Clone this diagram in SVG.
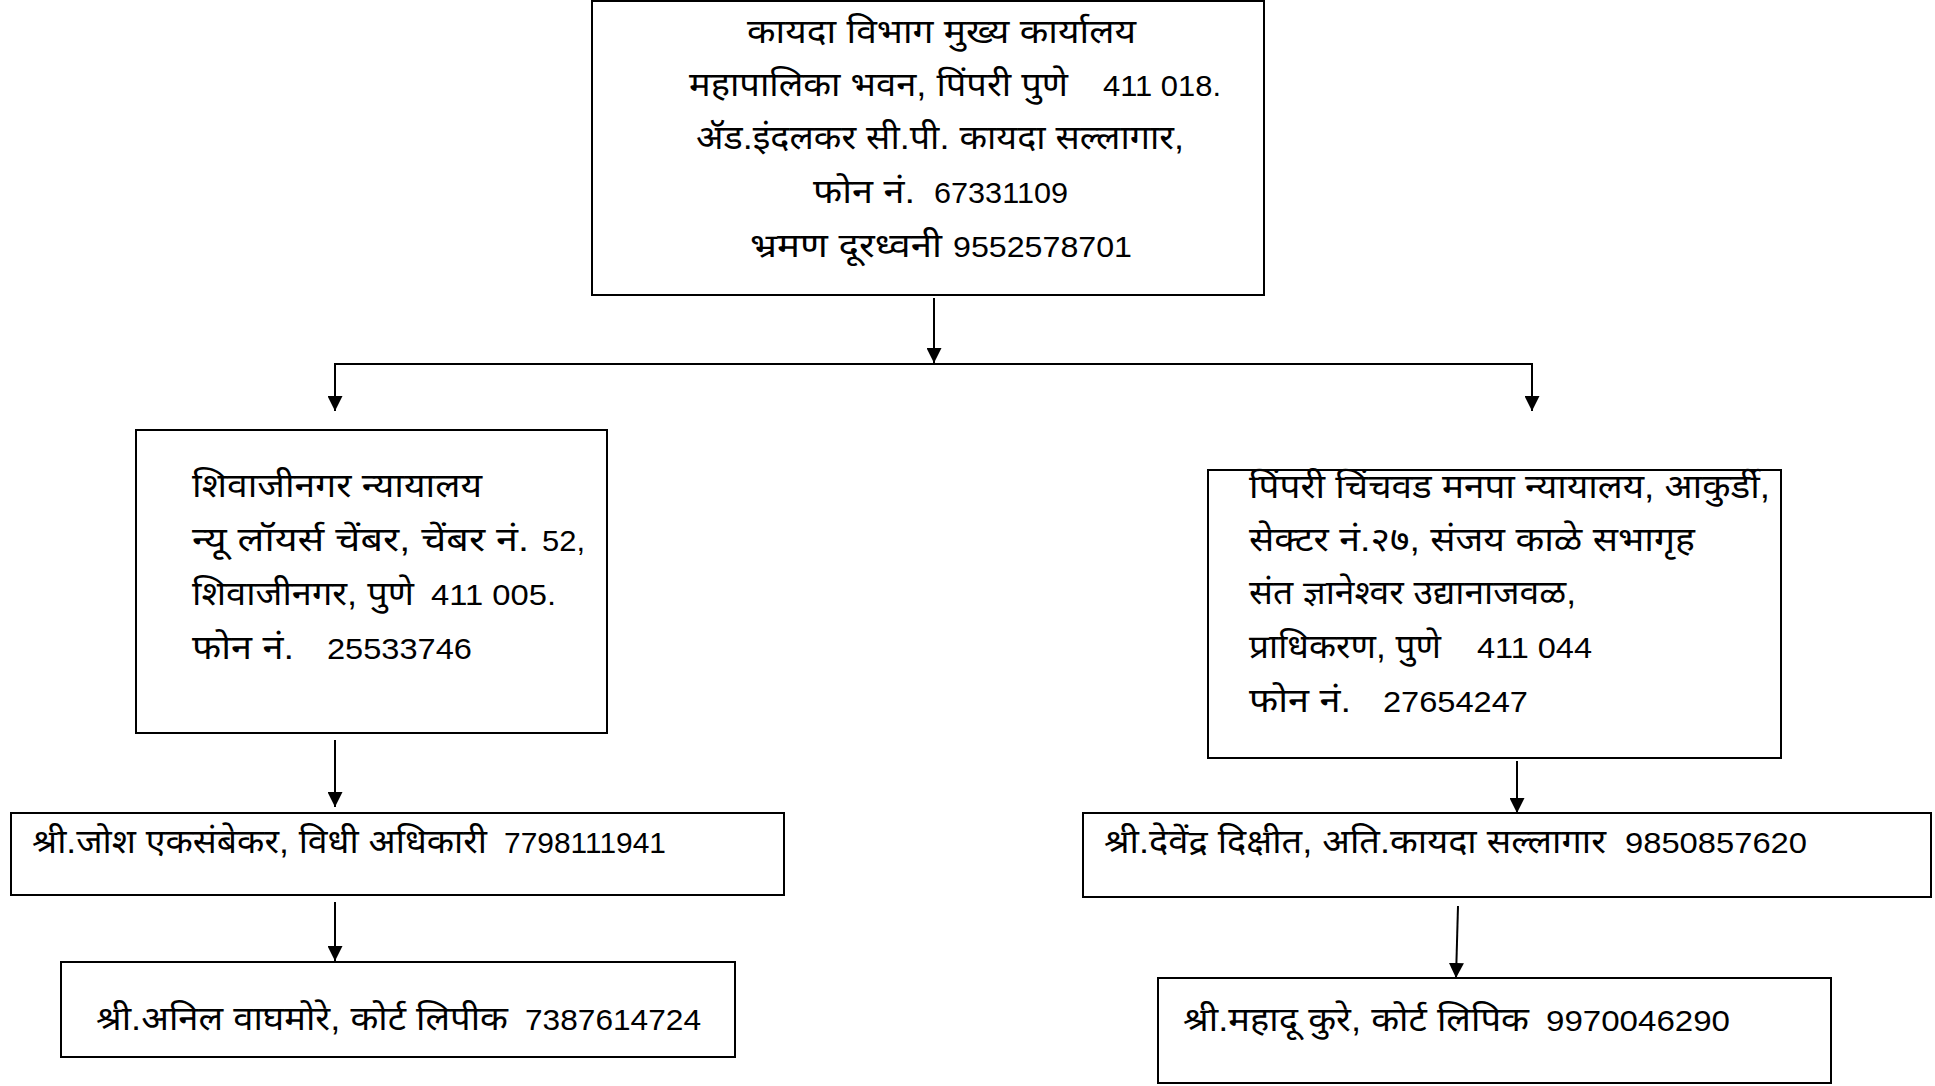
<svg xmlns="http://www.w3.org/2000/svg" width="1935" height="1086" viewBox="0 0 1935 1086">
<style>
.box{fill:#fff;stroke:#000;stroke-width:2}
.d{font-family:"Liberation Sans","Noto Sans",sans-serif;font-size:33px;fill:#000}
.n{font-family:"Liberation Sans","Noto Sans",sans-serif;font-size:30px;fill:#000}
.ln{stroke:#000;stroke-width:2;fill:none}
</style>
<defs>
<marker id="ah" markerUnits="userSpaceOnUse" markerWidth="15" markerHeight="15" refX="15" refY="7.5" orient="auto">
<path d="M0,0 L15,7.5 L0,15 z" fill="#000"/>
</marker>
</defs>
<rect width="1935" height="1086" fill="#fff"/>
<g id="connectors">
<line class="ln" x1="934" y1="298" x2="934" y2="363" marker-end="url(#ah)"/>
<line class="ln" x1="334" y1="364" x2="1533" y2="364"/>
<line class="ln" x1="335" y1="364" x2="335" y2="411" marker-end="url(#ah)"/>
<line class="ln" x1="1532" y1="364" x2="1532" y2="411" marker-end="url(#ah)"/>
<line class="ln" x1="335" y1="740" x2="335" y2="807" marker-end="url(#ah)"/>
<line class="ln" x1="335" y1="902" x2="335" y2="961" marker-end="url(#ah)"/>
<line class="ln" x1="1517" y1="761" x2="1517" y2="813" marker-end="url(#ah)"/>
<line class="ln" x1="1458" y1="906" x2="1456" y2="978" marker-end="url(#ah)"/>
</g>
<g id="head-office">
<rect class="box" x="592" y="1" width="672" height="294"/>
<text class="d" x="747" y="43" textLength="389" lengthAdjust="spacingAndGlyphs">कायदा विभाग मुख्य कार्यालय</text>
<text class="d" x="689" y="96" textLength="379" lengthAdjust="spacingAndGlyphs">महापालिका भवन, पिंपरी पुणे</text>
<text class="n" x="1103" y="96" textLength="118" lengthAdjust="spacingAndGlyphs">411 018.</text>
<text class="d" x="696" y="149" textLength="488" lengthAdjust="spacingAndGlyphs">ॲड.इंदलकर सी.पी. कायदा सल्लागार,</text>
<text class="d" x="813" y="203" textLength="102" lengthAdjust="spacingAndGlyphs">फोन नं.</text>
<text class="n" x="934" y="203" textLength="134" lengthAdjust="spacingAndGlyphs">67331109</text>
<text class="d" x="750" y="257" textLength="192" lengthAdjust="spacingAndGlyphs">भ्रमण दूरध्वनी</text>
<text class="n" x="953" y="257" textLength="179" lengthAdjust="spacingAndGlyphs">9552578701</text>
</g>
<g id="shivajinagar-court">
<rect class="box" x="136" y="430" width="471" height="303"/>
<text class="d" x="192" y="497" textLength="290" lengthAdjust="spacingAndGlyphs">शिवाजीनगर न्यायालय</text>
<text class="d" x="192" y="551" textLength="337" lengthAdjust="spacingAndGlyphs">न्यू लॉयर्स चेंबर, चेंबर नं.</text>
<text class="n" x="542" y="551" textLength="43" lengthAdjust="spacingAndGlyphs">52,</text>
<text class="d" x="192" y="605" textLength="222" lengthAdjust="spacingAndGlyphs">शिवाजीनगर, पुणे</text>
<text class="n" x="431" y="605" textLength="125" lengthAdjust="spacingAndGlyphs">411 005.</text>
<text class="d" x="192" y="659" textLength="102" lengthAdjust="spacingAndGlyphs">फोन नं.</text>
<text class="n" x="327" y="659" textLength="145" lengthAdjust="spacingAndGlyphs">25533746</text>
</g>
<g id="pcmc-court">
<rect class="box" x="1208" y="470" width="573" height="288"/>
<text class="d" x="1249" y="498" textLength="521" lengthAdjust="spacingAndGlyphs">पिंपरी चिंचवड मनपा न्यायालय, आकुर्डी,</text>
<text class="d" x="1249" y="551" textLength="446" lengthAdjust="spacingAndGlyphs">सेक्टर नं.२७, संजय काळे सभागृह</text>
<text class="d" x="1249" y="604" textLength="327" lengthAdjust="spacingAndGlyphs">संत ज्ञानेश्वर उद्यानाजवळ,</text>
<text class="d" x="1249" y="658" textLength="192" lengthAdjust="spacingAndGlyphs">प्राधिकरण, पुणे</text>
<text class="n" x="1477" y="658" textLength="115" lengthAdjust="spacingAndGlyphs">411 044</text>
<text class="d" x="1249" y="712" textLength="102" lengthAdjust="spacingAndGlyphs">फोन नं.</text>
<text class="n" x="1383" y="712" textLength="145" lengthAdjust="spacingAndGlyphs">27654247</text>
</g>
<g id="law-officer">
<rect class="box" x="11" y="813" width="773" height="82"/>
<text class="d" x="32" y="853" textLength="455" lengthAdjust="spacingAndGlyphs">श्री.जोश एकसंबेकर, विधी अधिकारी</text>
<text class="n" x="504" y="853" textLength="162" lengthAdjust="spacingAndGlyphs">7798111941</text>
</g>
<g id="court-clerk-left">
<rect class="box" x="61" y="962" width="674" height="95"/>
<text class="d" x="96" y="1030" textLength="412" lengthAdjust="spacingAndGlyphs">श्री.अनिल वाघमोरे, कोर्ट लिपीक</text>
<text class="n" x="525" y="1030" textLength="176" lengthAdjust="spacingAndGlyphs">7387614724</text>
</g>
<g id="addl-legal-adviser">
<rect class="box" x="1083" y="813" width="848" height="84"/>
<text class="d" x="1104" y="853" textLength="502" lengthAdjust="spacingAndGlyphs">श्री.देवेंद्र दिक्षीत, अति.कायदा सल्लागार</text>
<text class="n" x="1625" y="853" textLength="182" lengthAdjust="spacingAndGlyphs">9850857620</text>
</g>
<g id="court-clerk-right">
<rect class="box" x="1158" y="978" width="673" height="105"/>
<text class="d" x="1183" y="1031" textLength="346" lengthAdjust="spacingAndGlyphs">श्री.महादू कुरे, कोर्ट लिपिक</text>
<text class="n" x="1546" y="1031" textLength="184" lengthAdjust="spacingAndGlyphs">9970046290</text>
</g>
</svg>
